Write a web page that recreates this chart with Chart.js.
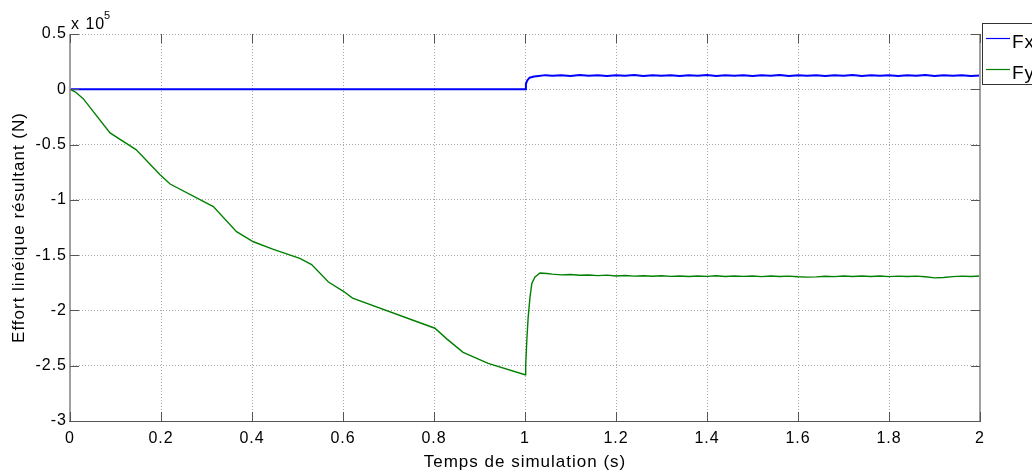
<!DOCTYPE html>
<html>
<head>
<meta charset="utf-8">
<script src="https://cdn.jsdelivr.net/npm/chart.js@4/dist/chart.umd.min.js"></script>
<style>
  html, body { margin: 0; padding: 0; background: #fff; }
  #wrap { width: 1032px; height: 474px; }
</style>
</head>
<body>
<div id="wrap"><canvas id="chart" width="1032" height="474"></canvas></div>
<script>
(function () {
    'use strict';

    // values in units of 10^5 N
    var fxTime  = [0, 1.0, 1.002, 1.005, 1.01, 1.02, 1.03, 1.045];
    var fxValue = [0, 0, 0.05, 0.08, 0.105, 0.115, 0.12, 0.128];

    var fyTime  = [0, 0.012, 0.029, 0.088, 0.145, 0.198, 0.22, 0.315, 0.366, 0.403, 0.447,
                   0.505, 0.531, 0.568, 0.601, 0.621, 0.802, 0.828, 0.864, 0.919, 1.0,
                   1.0015, 1.004, 1.007, 1.011, 1.015, 1.022, 1.033, 1.048];
    var fyValue = [0, -0.025, -0.085, -0.394, -0.545, -0.773, -0.857, -1.061, -1.288, -1.379, -1.448,
                   -1.530, -1.585, -1.743, -1.827, -1.888, -2.161, -2.257, -2.379, -2.479, -2.582,
                   -2.5, -2.27, -2.06, -1.88, -1.757, -1.697, -1.661, -1.666];

    // steady-state part after t = 1.05 s
    var tailTime = [1.06, 1.08, 1.10, 1.12, 1.14, 1.16, 1.18, 1.20, 1.22, 1.24, 1.26, 1.28,
                    1.30, 1.32, 1.34, 1.36, 1.38, 1.40, 1.42, 1.44, 1.46, 1.48, 1.50, 1.52,
                    1.54, 1.56, 1.58, 1.60, 1.62, 1.64, 1.66, 1.68, 1.70, 1.72, 1.74, 1.76,
                    1.78, 1.80, 1.82, 1.84, 1.86, 1.88, 1.90, 1.92, 1.94, 1.96, 1.98, 2.00];
    var fxTail = [0.122, 0.128, 0.121, 0.129, 0.122, 0.127, 0.121, 0.128, 0.122, 0.129, 0.121, 0.127,
                  0.122, 0.128, 0.121, 0.128, 0.122, 0.129, 0.121, 0.127, 0.122, 0.128, 0.121, 0.128,
                  0.122, 0.129, 0.121, 0.127, 0.122, 0.128, 0.121, 0.128, 0.122, 0.129, 0.121, 0.127,
                  0.122, 0.128, 0.121, 0.128, 0.122, 0.129, 0.121, 0.127, 0.122, 0.128, 0.121, 0.125];
    var fyTail = [-1.672, -1.678, -1.675, -1.682, -1.679, -1.685, -1.681, -1.688, -1.684, -1.690, -1.686, -1.691,
                  -1.687, -1.692, -1.688, -1.693, -1.688, -1.692, -1.687, -1.693, -1.688, -1.692, -1.689, -1.694,
                  -1.689, -1.693, -1.690, -1.696, -1.699, -1.697, -1.691, -1.694, -1.689, -1.693, -1.688, -1.693,
                  -1.689, -1.694, -1.690, -1.693, -1.690, -1.696, -1.706, -1.702, -1.694, -1.690, -1.693, -1.689];

    var xTicks = [0, 0.2, 0.4, 0.6, 0.8, 1, 1.2, 1.4, 1.6, 1.8, 2];
    var yTicks = [0.5, 0, -0.5, -1, -1.5, -2, -2.5, -3];

    var SERIES = [
        { label: 'Fx', color: '#0000ff', width: 2 },
        { label: 'Fy', color: '#008000', width: 1.4 }
    ];

    var FONT = '"Liberation Sans", Arial, Helvetica, sans-serif';

    function points(t, v) {
        return t.map(function (x, i) { return { x: x, y: v[i] }; });
    }

    var fxData = points(fxTime, fxValue).concat(points(tailTime, fxTail));
    var fyData = points(fyTime, fyValue).concat(points(tailTime, fyTail));

    function fmt(v) { return String(Math.round(v * 10) / 10); }

    // MATLAB-like box: solid axes, inward ticks, legend outside, exponent label
    var matlabBox = {
        id: 'matlabBox',
        beforeUpdate: function (chart) { chart.ctx.letterSpacing = '1px'; },
        beforeDraw: function (chart) { chart.ctx.letterSpacing = '1px'; },
        afterDraw: function (chart) {
            var ctx = chart.ctx, a = chart.chartArea;
            var xs = chart.scales.x, ys = chart.scales.y;
            ctx.save();
            ctx.setLineDash([]);

            // axis lines
            ctx.lineWidth = 2;
            ctx.strokeStyle = '#a0a0a0';
            ctx.beginPath();
            ctx.moveTo(a.left, a.top); ctx.lineTo(a.left, a.bottom);
            ctx.moveTo(a.right, a.top); ctx.lineTo(a.right, a.bottom);
            ctx.stroke();
            ctx.lineWidth = 1;
            ctx.strokeStyle = '#555';
            ctx.beginPath();
            ctx.moveTo(a.left - 1, a.bottom + 0.5); ctx.lineTo(a.right + 1, a.bottom + 0.5);
            ctx.stroke();

            // inward tick marks
            ctx.strokeStyle = '#555';
            ctx.beginPath();
            xTicks.forEach(function (t) {
                var px = Math.round(xs.getPixelForValue(t)) + 0.5;
                ctx.moveTo(px, a.bottom); ctx.lineTo(px, a.bottom - 9);
                ctx.moveTo(px, a.top); ctx.lineTo(px, a.top + 9);
            });
            yTicks.forEach(function (t) {
                var py = Math.round(ys.getPixelForValue(t)) + 0.5;
                ctx.moveTo(a.left, py); ctx.lineTo(a.left + 9, py);
                ctx.moveTo(a.right, py); ctx.lineTo(a.right - 9, py);
            });
            ctx.stroke();

            // exponent label
            ctx.fillStyle = '#000';
            ctx.textBaseline = 'alphabetic';
            ctx.textAlign = 'left';
            ctx.letterSpacing = '1px';
            ctx.font = '16px ' + FONT;
            ctx.fillText('x 10', a.left + 1, a.top - 5);
            ctx.font = '11px ' + FONT;
            ctx.fillText('5', a.left + 34, a.top - 15);

            // legend
            var lx = 982.5, ly = 23.5;
            ctx.fillStyle = '#fff';
            ctx.fillRect(lx, ly, 60, 61);
            ctx.lineWidth = 1;
            ctx.strokeStyle = '#333';
            ctx.strokeRect(lx, ly, 60, 61);
            ctx.font = '19px ' + FONT;
            ctx.textBaseline = 'middle';
            SERIES.forEach(function (s, i) {
                var y = 38.5 + i * 31;
                ctx.strokeStyle = s.color;
                ctx.lineWidth = 1.2;
                ctx.beginPath();
                ctx.moveTo(986, y); ctx.lineTo(1010, y);
                ctx.stroke();
                ctx.fillStyle = '#000';
                ctx.fillText(s.label, 1012, y + 4);
            });
            ctx.restore();
        }
    };

    new Chart(document.getElementById('chart'), {
        type: 'line',
        data: {
            datasets: [
                { label: SERIES[0].label, data: fxData, borderColor: SERIES[0].color, borderWidth: SERIES[0].width },
                { label: SERIES[1].label, data: fyData, borderColor: SERIES[1].color, borderWidth: SERIES[1].width }
            ]
        },
        options: {
            responsive: false,
            animation: false,
            devicePixelRatio: 1,
            layout: { padding: { top: 34, right: 52, left: 0, bottom: 0 } },
            elements: { point: { radius: 0 }, line: { tension: 0 } },
            plugins: { legend: { display: false }, tooltip: { enabled: false } },
            scales: {
                x: {
                    type: 'linear', min: 0, max: 2,
                    afterBuildTicks: function (s) { s.ticks = xTicks.map(function (v) { return { value: v }; }); },
                    afterFit: function (s) { s.height = 53; },
                    ticks: {
                        callback: fmt, color: '#000', padding: 8, maxRotation: 0, autoSkip: false,
                        font: { family: FONT, size: 16 }
                    },
                    grid: { color: '#a8a8a8', lineWidth: 1, drawTicks: false },
                    border: { display: false, dash: [1, 2] },
                    title: {
                        display: true, text: 'Temps de simulation (s)', color: '#000',
                        font: { family: FONT, size: 17 }, padding: { top: 0, bottom: 1 }
                    }
                },
                y: {
                    type: 'linear', min: -3, max: 0.5,
                    afterBuildTicks: function (s) { s.ticks = yTicks.map(function (v) { return { value: v }; }); },
                    afterFit: function (s) { s.width = 70; },
                    ticks: {
                        callback: fmt, color: '#000', padding: 3, autoSkip: false,
                        font: { family: FONT, size: 16 }
                    },
                    grid: { color: '#a8a8a8', lineWidth: 1, drawTicks: false },
                    border: { display: false, dash: [1, 2] },
                    title: {
                        display: true, text: 'Effort linéique résultant (N)', color: '#000',
                        font: { family: FONT, size: 17 }, padding: { top: 9, bottom: 0 }
                    }
                }
            }
        },
        plugins: [matlabBox]
    });
})();
</script>
</body>
</html>
